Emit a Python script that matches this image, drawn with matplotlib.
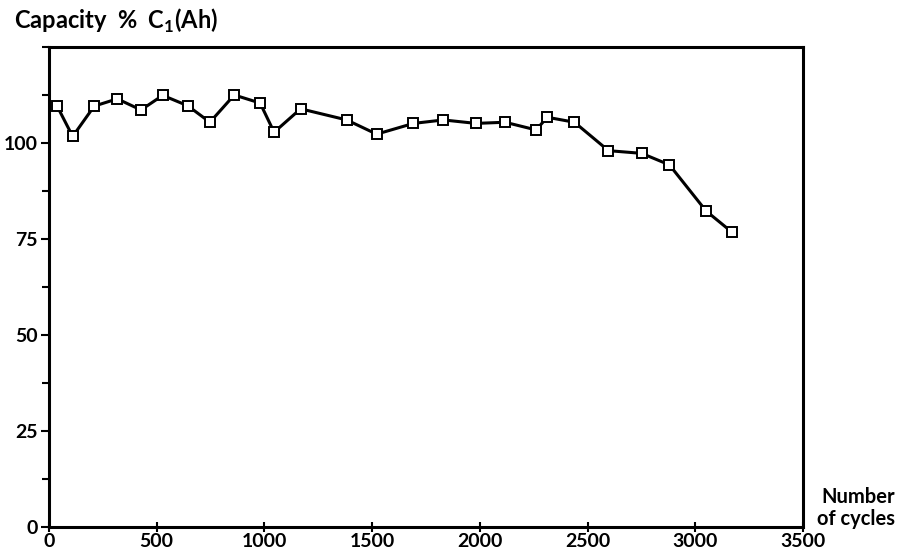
import matplotlib
matplotlib.use("Agg")
import matplotlib.pyplot as plt
from matplotlib.ticker import MultipleLocator

# capacity vs cycle count
cycles = [37, 110, 210, 317, 427, 528, 644, 747, 860, 980, 1045, 1168,
          1382, 1521, 1692, 1831, 1982, 2117, 2261, 2313, 2439, 2597,
          2751, 2880, 3050, 3172]
capacity = [109.7, 101.7, 109.6, 111.5, 108.6, 112.4, 109.7, 105.4, 112.5,
            110.4, 102.8, 108.9, 106.0, 102.3, 105.1, 106.0, 105.1, 105.4,
            103.4, 106.7, 105.4, 98.0, 97.3, 94.3, 82.3, 76.7]
x_ticks = [0, 500, 1000, 1500, 2000, 2500, 3000, 3500]
y_ticks = [0, 25, 50, 75, 100]

plt.rcParams["font.family"] = ["Lato", "DejaVu Sans"]

fig = plt.figure(figsize=(8.97, 5.58), dpi=100)
ax = fig.add_axes([0.0546, 0.0556, 0.8406, 0.8602])

ax.plot(cycles, capacity, color="black", lw=2.2, marker="s", ms=7.5,
        mfc="white", mec="black", mew=1.4, zorder=3)

ax.set_xlim(0, 3500)
ax.set_ylim(0, 125)
ax.set_xticks(x_ticks)
ax.set_yticks(y_ticks)
ax.yaxis.set_minor_locator(MultipleLocator(12.5))

for s in ax.spines.values():
    s.set_linewidth(2.2)

ax.tick_params(axis="x", direction="inout", length=7, width=1.5,
               labelsize=14, pad=1)
ax.tick_params(axis="y", which="major", direction="out", length=6, width=1.5,
               labelsize=14, pad=2)
ax.tick_params(axis="y", which="minor", direction="out", length=5, width=1.5)
for lbl in ax.get_xticklabels() + ax.get_yticklabels():
    lbl.set_fontweight("bold")

fig.text(0.016, 0.962, r"Capacity  %  C$_\mathregular{1}$(Ah)", fontsize=17,
         fontweight="bold", ha="left", va="center")
fig.text(0.998, 0.09, "Number\nof cycles", fontsize=14.5, fontweight="bold",
         ha="right", va="center", linespacing=1.1)

fig.savefig("out.png", dpi=100, facecolor="white")
